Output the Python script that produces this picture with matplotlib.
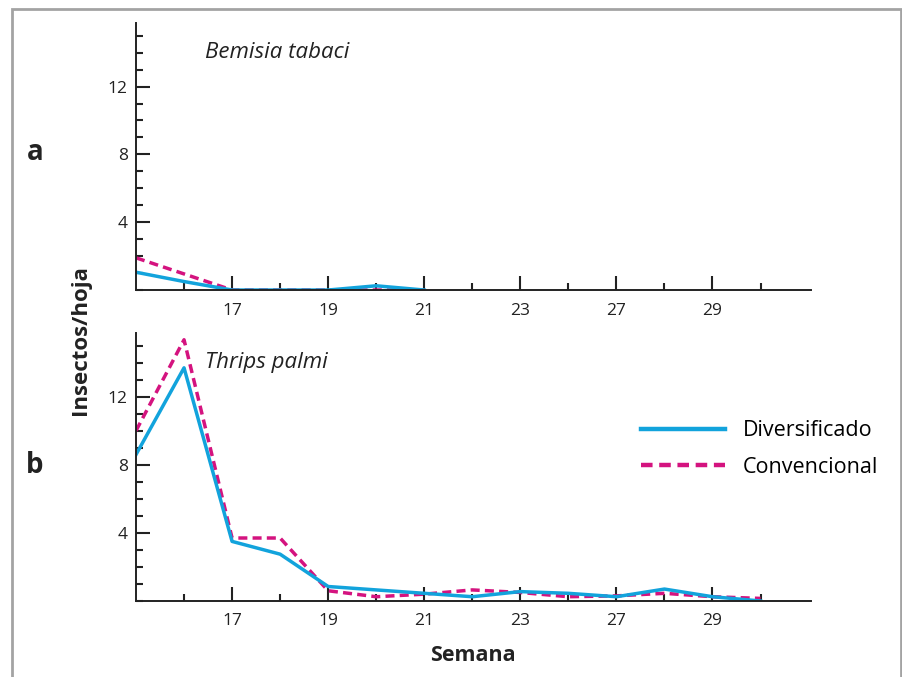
import numpy as np
import matplotlib.pyplot as plt
from matplotlib.patches import Rectangle
from matplotlib.ticker import MultipleLocator

plt.rcParams['font.family'] = ['Open Sans', 'DejaVu Sans']

# Semanas (eje categórico)
semanas = [15, 16, 17, 18, 19, 20, 21, 22, 23, 25, 27, 28, 29, 30]
semanas_etiqueta = [17, 19, 21, 23, 27, 29]

# a) Bemisia tabaci (datos hasta la semana 21)
div_bemisia = [1.05, 0.5, 0.0, 0.0, 0.0, 0.25, 0.0]
conv_bemisia = [1.9, 0.95, 0.0, 0.0, 0.0, 0.0, 0.0]

# b) Thrips palmi
div_thrips = [8.6, 13.7, 3.5, 2.75, 0.85, 0.65, 0.45, 0.25, 0.55, 0.45, 0.25, 0.7, 0.25, 0.0]
conv_thrips = [10.0, 15.35, 3.7, 3.7, 0.6, 0.25, 0.4, 0.65, 0.5, 0.25, 0.3, 0.45, 0.25, 0.15]

azul = '#12a3dc'
magenta = '#d4137f'
gris = '#222222'

fig = plt.figure(figsize=(9.03, 6.77), dpi=100)

# marco gris
fig.patches.append(Rectangle((0.0133, -0.05), 0.9845, 1.0367, transform=fig.transFigure,
                             fill=False, edgecolor='#a3a3a3', linewidth=2.0))

ax_a = fig.add_axes([0.1506, 0.5716, 0.7475, 0.3944])
ax_b = fig.add_axes([0.1506, 0.1123, 0.7475, 0.3959])

def panel(ax, div, conv, especie):
    x = np.arange(len(div))
    ax.plot(x, conv, color=magenta, lw=2.5, linestyle=(0, (2.6, 1.5)), label='Convencional')
    ax.plot(x, div, color=azul, lw=2.5, label='Diversificado')
    ax.set_xlim(0, 14.05)
    ax.set_ylim(0, 15.75)
    for s in ['top', 'right']:
        ax.spines[s].set_visible(False)
    for s in ['left', 'bottom']:
        ax.spines[s].set_linewidth(1.4)
        ax.spines[s].set_color(gris)
    pos = np.arange(len(semanas))
    mayores = [i for i, w in enumerate(semanas) if w in semanas_etiqueta]
    ax.set_xticks(mayores)
    ax.set_xticklabels([str(semanas[i]) for i in mayores])
    ax.set_xticks([i for i in pos[1:] if i not in mayores], minor=True)
    ax.yaxis.set_minor_locator(MultipleLocator(1))
    ax.set_yticks([4, 8, 12])
    ax.tick_params(which='major', direction='in', length=10, width=1.5, color=gris,
                   labelsize=12.5, labelcolor=gris)
    ax.tick_params(which='minor', direction='in', length=5, width=1.5, color=gris)
    ax.tick_params(axis='x', which='major', pad=9)
    ax.tick_params(axis='y', which='major', pad=6)
    ax.text(0.102, 0.891, especie, transform=ax.transAxes, fontsize=16,
            style='italic', va='center', ha='left', color=gris)

panel(ax_a, div_bemisia, conv_bemisia, 'Bemisia tabaci')
panel(ax_b, div_thrips, conv_thrips, 'Thrips palmi')

h, l = ax_b.get_legend_handles_labels()
leg = ax_b.legend(h[::-1], l[::-1], loc='center left', bbox_to_anchor=(0.748, 0.567),
                  frameon=False, fontsize=15.5, handlelength=3.9, handletextpad=0.85,
                  labelspacing=0.72, borderpad=0, borderaxespad=0)
for ln in leg.get_lines():
    ln.set_linewidth(3.2)

fig.text(0.0388, 0.775, 'a', fontsize=20, fontweight='bold', ha='center', va='center', color=gris)
fig.text(0.0388, 0.313, 'b', fontsize=20, fontweight='bold', ha='center', va='center', color=gris)
fig.text(0.0886, 0.498, 'Insectos/hoja', fontsize=16, fontweight='bold', rotation=90,
         ha='center', va='center', color=gris)
fig.text(0.524, 0.032, 'Semana', fontsize=15.5, fontweight='bold', ha='center', va='center', color=gris)

fig.savefig('out.png', dpi=100)
